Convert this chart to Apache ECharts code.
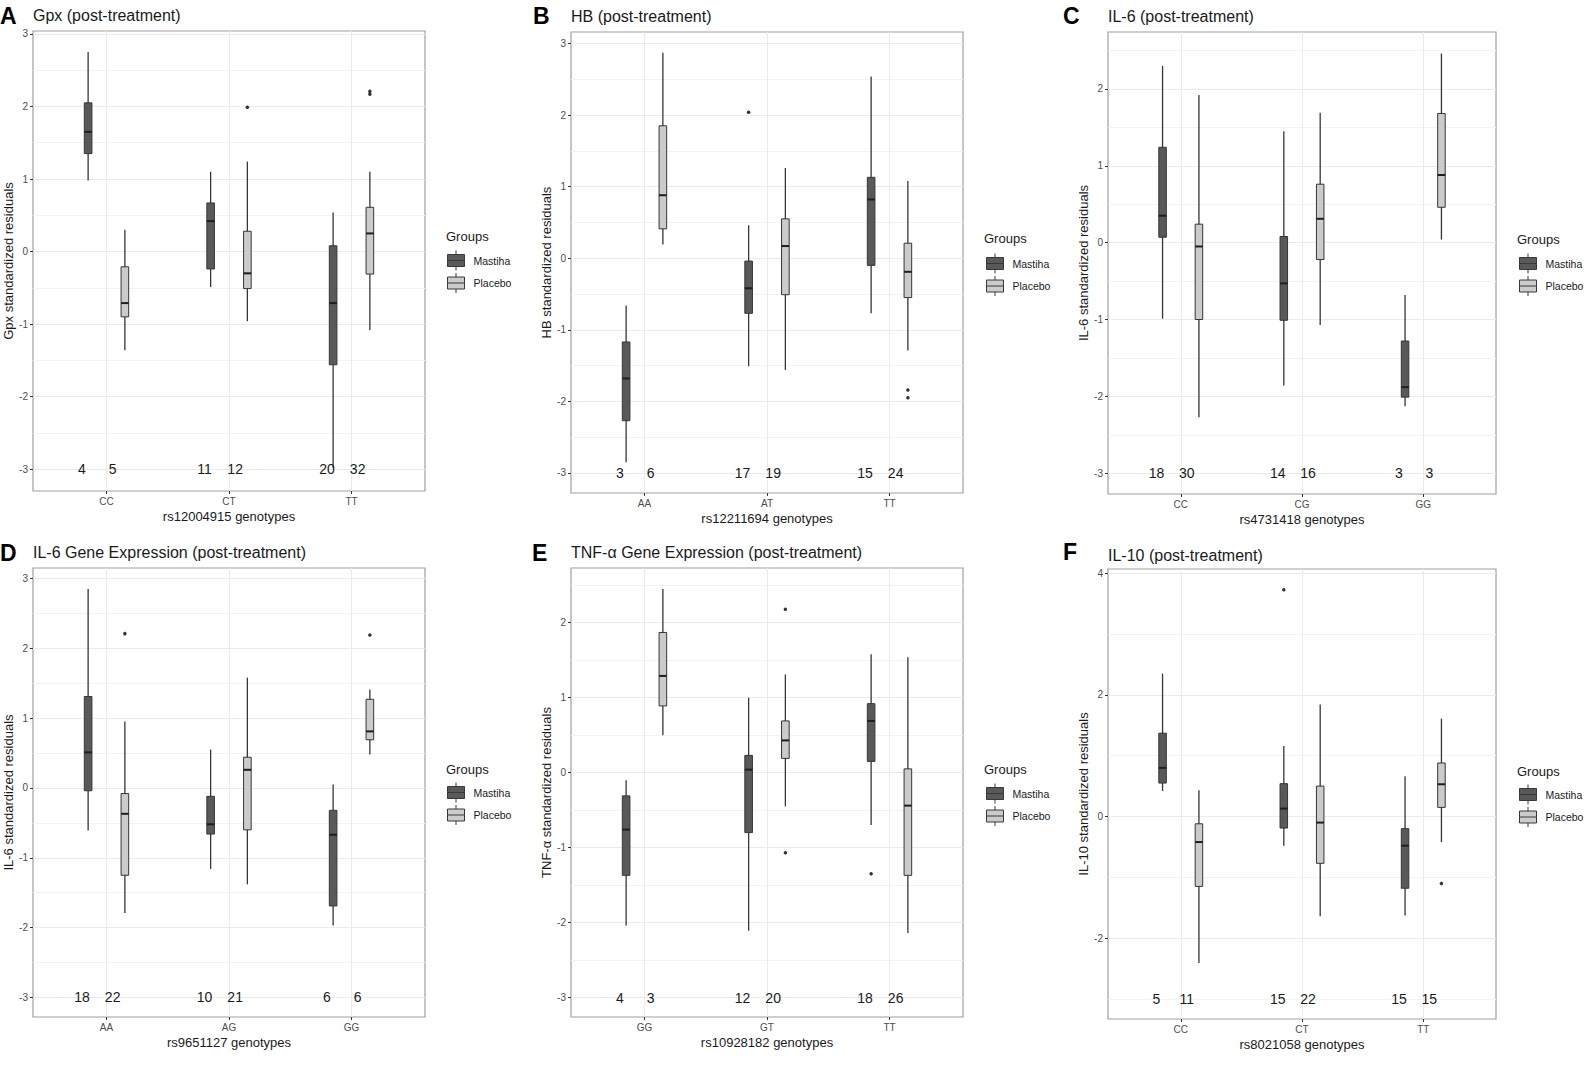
<!DOCTYPE html>
<html>
<head>
<meta charset="utf-8">
<title>Standardized residuals by genotype</title>
<script src="https://cdn.jsdelivr.net/npm/echarts@6.0.0/dist/echarts.min.js"></script>
<style>
html, body { margin: 0; padding: 0; background: #fff; }
#chart { width: 1595px; height: 1074px; }
</style>
</head>
<body>
<div id="chart"></div>
<script>
// box stats are [min, q1, median, q3, max]; outliers are [genotype index, value]
var gpxGenotypes = ['CC', 'CT', 'TT'];
var gpxMastiha = [[0.98, 1.35, 1.65, 2.05, 2.75], [-0.49, -0.24, 0.42, 0.67, 1.10], [-2.98, -1.56, -0.71, 0.08, 0.54]];
var gpxPlacebo = [[-1.36, -0.90, -0.71, -0.21, 0.30], [-0.96, -0.51, -0.30, 0.28, 1.24], [-1.08, -0.31, 0.25, 0.61, 1.10]];
var gpxOutMastiha = [];
var gpxOutPlacebo = [[1, 1.99], [2, 2.21], [2, 2.17]];
var gpxCounts = [[4, 5], [11, 12], [20, 32]];
var gpxTicks = [-3, -2, -1, 0, 1, 2, 3];

var hbGenotypes = ['AA', 'AT', 'TT'];
var hbMastiha = [[-2.85, -2.27, -1.68, -1.17, -0.66], [-1.51, -0.77, -0.42, -0.04, 0.46], [-0.77, -0.10, 0.82, 1.13, 2.54]];
var hbPlacebo = [[0.19, 0.41, 0.88, 1.85, 2.87], [-1.56, -0.51, 0.17, 0.55, 1.26], [-1.29, -0.55, -0.19, 0.21, 1.08]];
var hbOutMastiha = [[1, 2.04]];
var hbOutPlacebo = [[2, -1.84], [2, -1.95]];
var hbCounts = [[3, 6], [17, 19], [15, 24]];
var hbTicks = [-3, -2, -1, 0, 1, 2, 3];

var il6Genotypes = ['CC', 'CG', 'GG'];
var il6Mastiha = [[-0.99, 0.07, 0.35, 1.24, 2.30], [-1.86, -1.01, -0.53, 0.08, 1.45], [-2.13, -2.01, -1.88, -1.28, -0.68]];
var il6Placebo = [[-2.27, -1.00, -0.05, 0.24, 1.92], [-1.07, -0.22, 0.31, 0.76, 1.69], [0.04, 0.46, 0.88, 1.68, 2.46]];
var il6OutMastiha = [];
var il6OutPlacebo = [];
var il6Counts = [[18, 30], [14, 16], [3, 3]];
var il6Ticks = [-3, -2, -1, 0, 1, 2];

var il6geGenotypes = ['AA', 'AG', 'GG'];
var il6geMastiha = [[-0.61, -0.04, 0.51, 1.31, 2.85], [-1.16, -0.66, -0.52, -0.12, 0.55], [-1.97, -1.69, -0.67, -0.32, 0.05]];
var il6gePlacebo = [[-1.79, -1.25, -0.37, -0.08, 0.95], [-1.38, -0.60, 0.26, 0.44, 1.58], [0.48, 0.69, 0.81, 1.27, 1.41]];
var il6geOutMastiha = [];
var il6geOutPlacebo = [[0, 2.21], [2, 2.19]];
var il6geCounts = [[18, 22], [10, 21], [6, 6]];
var il6geTicks = [-3, -2, -1, 0, 1, 2, 3];

var tnfGenotypes = ['GG', 'GT', 'TT'];
var tnfMastiha = [[-2.04, -1.37, -0.76, -0.31, -0.10], [-2.11, -0.80, 0.04, 0.23, 1.00], [-0.70, 0.15, 0.69, 0.92, 1.58]];
var tnfPlacebo = [[0.50, 0.89, 1.29, 1.87, 2.45], [-0.45, 0.19, 0.43, 0.69, 1.31], [-2.14, -1.37, -0.44, 0.05, 1.54]];
var tnfOutMastiha = [[2, -1.35]];
var tnfOutPlacebo = [[1, 2.18], [1, -1.07]];
var tnfCounts = [[4, 3], [12, 20], [18, 26]];
var tnfTicks = [-3, -2, -1, 0, 1, 2];

var il10Genotypes = ['CC', 'CT', 'TT'];
var il10Mastiha = [[0.42, 0.55, 0.80, 1.37, 2.35], [-0.48, -0.19, 0.13, 0.54, 1.16], [-1.63, -1.18, -0.48, -0.20, 0.66]];
var il10Placebo = [[-2.41, -1.15, -0.42, -0.12, 0.43], [-1.64, -0.77, -0.10, 0.50, 1.84], [-0.42, 0.15, 0.53, 0.88, 1.61]];
var il10OutMastiha = [[1, 3.73]];
var il10OutPlacebo = [[2, -1.10]];
var il10Counts = [[5, 11], [15, 22], [15, 15]];
var il10Ticks = [-2, 0, 2, 4];

var groups = ['Mastiha', 'Placebo'];
var COUNT_Y = -3;   // the n labels sit on y = -3

var FONT = '"Liberation Sans", Arial, Helvetica, sans-serif';
var DODGE = [-0.15, 0.15];      // box offset from the genotype centre
var COUNT_DX = [-0.2, 0.05];    // n label offset from the genotype centre
var BOX_W = 0.062;
var GROUP_FILL = ['#595959', '#cbcbcb'];
var KEY_ICON = 'path://M0,4H17V16H0Z M8.5,0V4 M8.5,16V20 M0,10H17';

var panels = [
    { letter: 'A', title: 'Gpx (post-treatment)', yName: 'Gpx standardized residuals', xName: 'rs12004915 genotypes',
      genotypes: gpxGenotypes, boxes: [gpxMastiha, gpxPlacebo], outliers: [gpxOutMastiha, gpxOutPlacebo], counts: gpxCounts, ticks: gpxTicks,
      grid: { left: 33, top: 31, width: 392, height: 460 }, yRange: [-3.30, 3.04],
      letterX: 0, letterY: 16, titleY: 15, groupsX: 446, groupsY: 237, legendX: 447, legendY: 250 },
    { letter: 'B', title: 'HB (post-treatment)', yName: 'HB standardized residuals', xName: 'rs12211694 genotypes',
      genotypes: hbGenotypes, boxes: [hbMastiha, hbPlacebo], outliers: [hbOutMastiha, hbOutPlacebo], counts: hbCounts, ticks: hbTicks,
      grid: { left: 571, top: 32, width: 392, height: 461 }, yRange: [-3.28, 3.16],
      letterX: 533, letterY: 16, titleY: 16.5, groupsX: 984, groupsY: 239, legendX: 986, legendY: 253 },
    { letter: 'C', title: 'IL-6 (post-treatment)', yName: 'IL-6 standardized residuals', xName: 'rs4731418 genotypes',
      genotypes: il6Genotypes, boxes: [il6Mastiha, il6Placebo], outliers: [il6OutMastiha, il6OutPlacebo], counts: il6Counts, ticks: il6Ticks,
      grid: { left: 1108, top: 32, width: 388, height: 462 }, yRange: [-3.27, 2.74],
      letterX: 1063, letterY: 16, titleY: 16.5, groupsX: 1517, groupsY: 240, legendX: 1519, legendY: 253 },
    { letter: 'D', title: 'IL-6 Gene Expression (post-treatment)', yName: 'IL-6 standardized residuals', xName: 'rs9651127 genotypes',
      genotypes: il6geGenotypes, boxes: [il6geMastiha, il6gePlacebo], outliers: [il6geOutMastiha, il6geOutPlacebo], counts: il6geCounts, ticks: il6geTicks,
      grid: { left: 33, top: 568, width: 392, height: 449 }, yRange: [-3.28, 3.15],
      letterX: 0, letterY: 553, titleY: 552.5, groupsX: 446, groupsY: 770, legendX: 447, legendY: 782 },
    { letter: 'E', title: 'TNF-\u03b1 Gene Expression (post-treatment)', yName: 'TNF-\u03b1 standardized residuals', xName: 'rs10928182 genotypes',
      genotypes: tnfGenotypes, boxes: [tnfMastiha, tnfPlacebo], outliers: [tnfOutMastiha, tnfOutPlacebo], counts: tnfCounts, ticks: tnfTicks,
      grid: { left: 571, top: 568, width: 392, height: 449 }, yRange: [-3.26, 2.73],
      letterX: 532, letterY: 553, titleY: 552.5, groupsX: 984, groupsY: 770, legendX: 986, legendY: 783 },
    { letter: 'F', title: 'IL-10 (post-treatment)', yName: 'IL-10 standardized residuals', xName: 'rs8021058 genotypes',
      genotypes: il10Genotypes, boxes: [il10Mastiha, il10Placebo], outliers: [il10OutMastiha, il10OutPlacebo], counts: il10Counts, ticks: il10Ticks,
      grid: { left: 1108, top: 569, width: 388, height: 450 }, yRange: [-3.33, 4.07],
      letterX: 1063, letterY: 552, titleY: 555, groupsX: 1517, groupsY: 772, legendX: 1519, legendY: 784 }
];

function renderBox(params, api) {
    var x = api.value(0);
    var lo = api.coord([x, api.value(1)]);
    var q1 = api.coord([x, api.value(2)]);
    var md = api.coord([x, api.value(3)]);
    var q3 = api.coord([x, api.value(4)]);
    var hi = api.coord([x, api.value(5)]);
    var w = api.size([BOX_W, 0])[0];
    return {
        type: 'group',
        children: [
            { type: 'line', shape: { x1: lo[0], y1: lo[1], x2: hi[0], y2: hi[1] }, style: { stroke: '#363636', lineWidth: 1.3 } },
            { type: 'rect', shape: { x: q3[0] - w / 2, y: q3[1], width: w, height: q1[1] - q3[1] },
              style: { fill: api.visual('color'), stroke: '#363636', lineWidth: 1 } },
            { type: 'line', shape: { x1: md[0] - w / 2, y1: md[1], x2: md[0] + w / 2, y2: md[1] }, style: { stroke: '#1e1e1e', lineWidth: 2 } }
        ]
    };
}

function renderCount(params, api) {
    var p = api.coord([api.value(0), api.value(1)]);
    return {
        type: 'text', x: p[0], y: p[1],
        style: { text: String(api.value(2)), fill: '#1a1a1a', fontSize: 14, fontFamily: FONT, align: 'center', verticalAlign: 'middle' }
    };
}

// gridline values: majors on the ticks, minors half way between
function gridValues(ticks, range) {
    var step = ticks[1] - ticks[0];
    var v = ticks[0];
    while (v - step / 2 >= range[0]) v -= step / 2;
    var out = [];
    for (; v <= range[1] + 1e-9; v += step / 2) out.push(Math.round(v * 1000) / 1000);
    return out;
}

var option = {
    backgroundColor: '#fff',
    animation: false,
    textStyle: { fontFamily: FONT },
    title: [],
    legend: [],
    grid: [],
    xAxis: [],
    yAxis: [],
    series: []
};

panels.forEach(function (pn, p) {
    option.grid.push({
        left: pn.grid.left, top: pn.grid.top, width: pn.grid.width, height: pn.grid.height,
        show: true, backgroundColor: '#fff', borderColor: '#a0a0a0', borderWidth: 1.2
    });

    var cats = pn.genotypes.map(function (g, i) { return i + 1; });
    option.xAxis.push({
        type: 'value', gridIndex: p, min: 0.4, max: 3.6, position: 'bottom',
        name: pn.xName, nameLocation: 'middle', nameGap: 19,
        nameTextStyle: { fontSize: 13, color: '#1a1a1a', fontFamily: FONT },
        axisLine: { show: false, onZero: false },
        axisTick: { show: true, length: 3, customValues: cats, lineStyle: { color: '#333', width: 1 } },
        axisLabel: {
            customValues: cats, margin: 5, fontSize: 10, color: '#4d4d4d', fontFamily: FONT,
            formatter: function (v) { return pn.genotypes[Math.round(v) - 1]; }
        },
        splitLine: { show: true, lineStyle: { color: '#ebebeb', width: 1 } }
    });

    var gv = gridValues(pn.ticks, pn.yRange);
    var major = pn.ticks.indexOf(gv[0]) >= 0;
    option.yAxis.push({
        type: 'value', gridIndex: p, min: pn.yRange[0], max: pn.yRange[1], position: 'left',
        name: pn.yName, nameLocation: 'middle', nameGap: 18,
        nameTextStyle: { fontSize: 13, color: '#1a1a1a', fontFamily: FONT },
        axisLine: { show: false, onZero: false },
        axisTick: { show: true, length: 3, customValues: pn.ticks, lineStyle: { color: '#333', width: 1 } },
        axisLabel: { customValues: pn.ticks, margin: 5, fontSize: 10, color: '#4d4d4d', fontFamily: FONT },
        splitLine: { show: false }
    });
    option.yAxis.push({
        type: 'value', gridIndex: p, min: pn.yRange[0], max: pn.yRange[1], position: 'left',
        axisLine: { show: false, onZero: false },
        axisTick: { show: false, customValues: gv },
        axisLabel: { show: false },
        splitLine: { show: true, lineStyle: { color: major ? ['#ebebeb', '#f3f3f3'] : ['#f3f3f3', '#ebebeb'], width: 1 } }
    });

    groups.forEach(function (name, g) {
        option.series.push({
            type: 'custom', name: name, xAxisIndex: p, yAxisIndex: 2 * p,
            renderItem: renderBox,
            itemStyle: { color: GROUP_FILL[g] },
            encode: { x: 0, y: [1, 2, 3, 4, 5] },
            data: pn.boxes[g].map(function (s, i) { return [i + 1 + DODGE[g]].concat(s); }),
            z: 3
        });
        option.series.push({
            type: 'scatter', name: name + ' outliers', xAxisIndex: p, yAxisIndex: 2 * p,
            symbolSize: 3.5, itemStyle: { color: '#000' }, silent: true,
            data: pn.outliers[g].map(function (o) { return [o[0] + 1 + DODGE[g], o[1]]; }),
            z: 4
        });
    });

    var countData = [];
    pn.counts.forEach(function (pair, i) {
        pair.forEach(function (n, g) { countData.push([i + 1 + COUNT_DX[g], COUNT_Y, n]); });
    });
    option.series.push({
        type: 'custom', name: 'n', xAxisIndex: p, yAxisIndex: 2 * p,
        renderItem: renderCount, encode: { x: 0, y: 1 }, data: countData, z: 5, silent: true
    });

    option.title.push({
        text: pn.letter, left: pn.letterX, top: pn.letterY - 12, padding: 0,
        textStyle: { fontSize: 23, fontWeight: 'bold', color: '#000', fontFamily: FONT }
    });
    option.title.push({
        text: pn.title, left: pn.grid.left, top: pn.titleY - 8, padding: 0,
        textStyle: { fontSize: 16, fontWeight: 'normal', color: '#1a1a1a', fontFamily: FONT }
    });
    option.title.push({
        text: 'Groups', left: pn.groupsX, top: pn.groupsY - 7, padding: 0,
        textStyle: { fontSize: 13, fontWeight: 'normal', color: '#1a1a1a', fontFamily: FONT }
    });

    option.legend.push({
        data: groups, orient: 'vertical', left: pn.legendX, top: pn.legendY, padding: 0,
        itemWidth: 17, itemHeight: 20, itemGap: 1.5, icon: KEY_ICON,
        itemStyle: { borderColor: '#383838', borderWidth: 1 },
        textStyle: { fontSize: 10.5, color: '#1a1a1a', fontFamily: FONT, padding: [0, 0, 0, 4] },
        selectedMode: false
    });
});

var chart = echarts.init(document.getElementById('chart'), null, { renderer: 'svg' });
chart.setOption(option);
</script>
</body>
</html>
